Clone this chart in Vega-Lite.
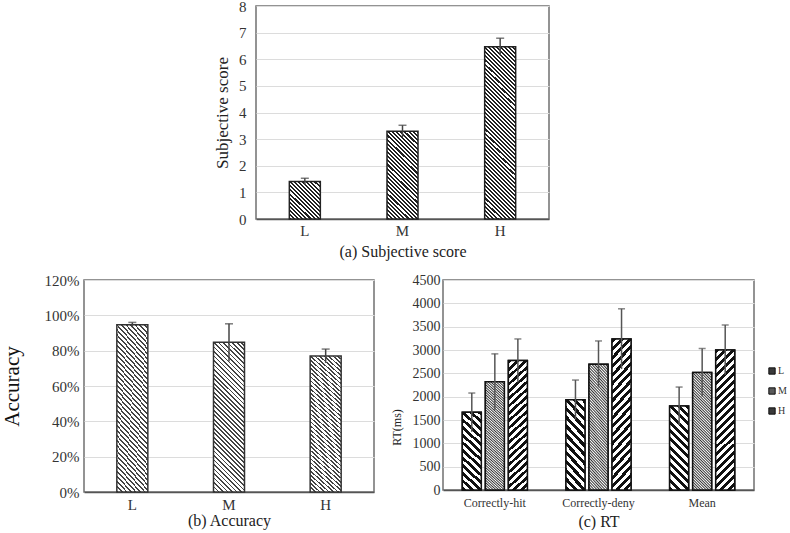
{
"$schema": "https://vega.github.io/schema/vega-lite/v6.json",
"background": "white",
"padding": {"left": 0, "top": -2, "right": 0, "bottom": 0},
"datasets": {
"a": [{"cond":"L","value":1.41,"lo":1.29,"hi":1.53},{"cond":"M","value":3.30,"lo":3.08,"hi":3.52},{"cond":"H","value":6.47,"lo":6.15,"hi":6.79}],
"b": [{"cond":"L","value":0.946,"lo":0.932,"hi":0.960},{"cond":"M","value":0.848,"lo":0.739,"hi":0.952},{"cond":"H","value":0.770,"lo":0.731,"hi":0.809}],
"c": [
{"measure":"Correctly-hit","level":"L","value":1664,"lo":1250,"hi":2078},
{"measure":"Correctly-hit","level":"M","value":2319,"lo":1721,"hi":2917},
{"measure":"Correctly-hit","level":"H","value":2774,"lo":2311,"hi":3237},
{"measure":"Correctly-deny","level":"L","value":1935,"lo":1514,"hi":2356},
{"measure":"Correctly-deny","level":"M","value":2697,"lo":2200,"hi":3194},
{"measure":"Correctly-deny","level":"H","value":3237,"lo":2591,"hi":3883},
{"measure":"Mean","level":"L","value":1800,"lo":1394,"hi":2206},
{"measure":"Mean","level":"M","value":2518,"lo":2006,"hi":3030},
{"measure":"Mean","level":"H","value":3002,"lo":2468,"hi":3536}]
},
"config": {
"font": "Liberation Serif",
"view": {"stroke": "#707070", "strokeWidth": 1.5},
"axis": {"labelFont": "Liberation Serif", "titleFont": "Liberation Serif", "titleFontWeight": "normal", "labelColor": "#333", "titleColor": "#222", "ticks": false, "gridColor": "#dcdcdc", "gridWidth": 1, "labelOverlap": false},
"axisY": {"domain": false, "grid": true},
"axisX": {"grid": false, "domainColor": "#555", "domainWidth": 1.5, "labelAngle": 0}
},
"spacing": 12,
"resolve": {"scale": {"fill": "independent"}, "legend": {"fill": "independent"}},
"vconcat": [
{"hconcat": [
 {"width": 162, "height": 10, "data": {"values": [{"s": 0}]}, "mark": {"type": "point", "opacity": 0}, "encoding": {}, "view": {"stroke": null}},
 {"width": 293, "height": 213,
  "data": {"name": "a"},
  "encoding": {"x": {"field": "cond", "type": "nominal", "title": "(a) Subjective score", "scale": {"domain": ["L","M","H"], "paddingInner": 0, "paddingOuter": 0}, "axis": {"labelFontSize": 15, "labelPadding": 4, "titleFontSize": 16, "titlePadding": 5}}},
  "layer": [
   {"transform": [{"filter": "datum.cond === 'L'"}],
    "mark": {"type": "bar", "width": 31, "stroke": "#222", "strokeWidth": 1.5, "fill": {"gradient": "linear", "x1": 0, "y1": 1, "x2": 0.891, "y2": -0.089, "stops": [
{"offset":0,"color":"#222"},{"offset":0.03,"color":"#222"},{"offset":0.03,"color":"#fff"},{"offset":0.06,"color":"#fff"},
{"offset":0.06,"color":"#222"},{"offset":0.09,"color":"#222"},{"offset":0.09,"color":"#fff"},{"offset":0.12,"color":"#fff"},
{"offset":0.12,"color":"#222"},{"offset":0.15,"color":"#222"},{"offset":0.15,"color":"#fff"},{"offset":0.18,"color":"#fff"},
{"offset":0.18,"color":"#222"},{"offset":0.21,"color":"#222"},{"offset":0.21,"color":"#fff"},{"offset":0.24,"color":"#fff"},
{"offset":0.24,"color":"#222"},{"offset":0.27,"color":"#222"},{"offset":0.27,"color":"#fff"},{"offset":0.3,"color":"#fff"},
{"offset":0.3,"color":"#222"},{"offset":0.33,"color":"#222"},{"offset":0.33,"color":"#fff"},{"offset":0.36,"color":"#fff"},
{"offset":0.36,"color":"#222"},{"offset":0.39,"color":"#222"},{"offset":0.39,"color":"#fff"},{"offset":0.42,"color":"#fff"},
{"offset":0.42,"color":"#222"},{"offset":0.45,"color":"#222"},{"offset":0.45,"color":"#fff"},{"offset":0.48,"color":"#fff"},
{"offset":0.48,"color":"#222"},{"offset":0.51,"color":"#222"},{"offset":0.51,"color":"#fff"},{"offset":0.54,"color":"#fff"},
{"offset":0.54,"color":"#222"},{"offset":0.57,"color":"#222"},{"offset":0.57,"color":"#fff"},{"offset":0.6,"color":"#fff"},
{"offset":0.6,"color":"#222"},{"offset":0.63,"color":"#222"},{"offset":0.63,"color":"#fff"},{"offset":0.66,"color":"#fff"},
{"offset":0.66,"color":"#222"},{"offset":0.69,"color":"#222"},{"offset":0.69,"color":"#fff"},{"offset":0.72,"color":"#fff"},
{"offset":0.72,"color":"#222"},{"offset":0.75,"color":"#222"},{"offset":0.75,"color":"#fff"},{"offset":0.78,"color":"#fff"},
{"offset":0.78,"color":"#222"},{"offset":0.81,"color":"#222"},{"offset":0.81,"color":"#fff"},{"offset":0.84,"color":"#fff"},
{"offset":0.84,"color":"#222"},{"offset":0.87,"color":"#222"},{"offset":0.87,"color":"#fff"},{"offset":0.9,"color":"#fff"},
{"offset":0.9,"color":"#222"},{"offset":0.93,"color":"#222"},{"offset":0.93,"color":"#fff"},{"offset":0.96,"color":"#fff"},
{"offset":0.96,"color":"#222"},{"offset":0.99,"color":"#222"},{"offset":0.99,"color":"#fff"},{"offset":1,"color":"#fff"}]}},
    "encoding": {"y": {"field": "value", "type": "quantitative", "title": "Subjective score", "scale": {"domain": [0, 8], "nice": false}, "axis": {"values": [0,1,2,3,4,5,6,7,8], "labelFontSize": 15, "labelPadding": 10, "titleFontSize": 17, "titlePadding": 7}}}},
   {"transform": [{"filter": "datum.cond === 'M'"}],
    "mark": {"type": "bar", "width": 31, "stroke": "#222", "strokeWidth": 1.5, "fill": {"gradient": "linear", "x1": 0, "y1": 1, "x2": 0.42, "y2": -0.2025, "stops": [
{"offset":0,"color":"#222"},{"offset":0.0175,"color":"#222"},{"offset":0.0175,"color":"#fff"},{"offset":0.035,"color":"#fff"},
{"offset":0.035,"color":"#222"},{"offset":0.0525,"color":"#222"},{"offset":0.0525,"color":"#fff"},{"offset":0.07,"color":"#fff"},
{"offset":0.07,"color":"#222"},{"offset":0.0875,"color":"#222"},{"offset":0.0875,"color":"#fff"},{"offset":0.105,"color":"#fff"},
{"offset":0.105,"color":"#222"},{"offset":0.1225,"color":"#222"},{"offset":0.1225,"color":"#fff"},{"offset":0.14,"color":"#fff"},
{"offset":0.14,"color":"#222"},{"offset":0.1575,"color":"#222"},{"offset":0.1575,"color":"#fff"},{"offset":0.175,"color":"#fff"},
{"offset":0.175,"color":"#222"},{"offset":0.1925,"color":"#222"},{"offset":0.1925,"color":"#fff"},{"offset":0.21,"color":"#fff"},
{"offset":0.21,"color":"#222"},{"offset":0.2275,"color":"#222"},{"offset":0.2275,"color":"#fff"},{"offset":0.245,"color":"#fff"},
{"offset":0.245,"color":"#222"},{"offset":0.2625,"color":"#222"},{"offset":0.2625,"color":"#fff"},{"offset":0.28,"color":"#fff"},
{"offset":0.28,"color":"#222"},{"offset":0.2975,"color":"#222"},{"offset":0.2975,"color":"#fff"},{"offset":0.315,"color":"#fff"},
{"offset":0.315,"color":"#222"},{"offset":0.3325,"color":"#222"},{"offset":0.3325,"color":"#fff"},{"offset":0.35,"color":"#fff"},
{"offset":0.35,"color":"#222"},{"offset":0.3675,"color":"#222"},{"offset":0.3675,"color":"#fff"},{"offset":0.385,"color":"#fff"},
{"offset":0.385,"color":"#222"},{"offset":0.4025,"color":"#222"},{"offset":0.4025,"color":"#fff"},{"offset":0.42,"color":"#fff"},
{"offset":0.42,"color":"#222"},{"offset":0.4375,"color":"#222"},{"offset":0.4375,"color":"#fff"},{"offset":0.455,"color":"#fff"},
{"offset":0.455,"color":"#222"},{"offset":0.4725,"color":"#222"},{"offset":0.4725,"color":"#fff"},{"offset":0.49,"color":"#fff"},
{"offset":0.49,"color":"#222"},{"offset":0.5075,"color":"#222"},{"offset":0.5075,"color":"#fff"},{"offset":0.525,"color":"#fff"},
{"offset":0.525,"color":"#222"},{"offset":0.5425,"color":"#222"},{"offset":0.5425,"color":"#fff"},{"offset":0.56,"color":"#fff"},
{"offset":0.56,"color":"#222"},{"offset":0.5775,"color":"#222"},{"offset":0.5775,"color":"#fff"},{"offset":0.595,"color":"#fff"},
{"offset":0.595,"color":"#222"},{"offset":0.6125,"color":"#222"},{"offset":0.6125,"color":"#fff"},{"offset":0.63,"color":"#fff"},
{"offset":0.63,"color":"#222"},{"offset":0.6475,"color":"#222"},{"offset":0.6475,"color":"#fff"},{"offset":0.665,"color":"#fff"},
{"offset":0.665,"color":"#222"},{"offset":0.6825,"color":"#222"},{"offset":0.6825,"color":"#fff"},{"offset":0.7,"color":"#fff"},
{"offset":0.7,"color":"#222"},{"offset":0.7175,"color":"#222"},{"offset":0.7175,"color":"#fff"},{"offset":0.735,"color":"#fff"},
{"offset":0.735,"color":"#222"},{"offset":0.7525,"color":"#222"},{"offset":0.7525,"color":"#fff"},{"offset":0.77,"color":"#fff"},
{"offset":0.77,"color":"#222"},{"offset":0.7875,"color":"#222"},{"offset":0.7875,"color":"#fff"},{"offset":0.805,"color":"#fff"},
{"offset":0.805,"color":"#222"},{"offset":0.8225,"color":"#222"},{"offset":0.8225,"color":"#fff"},{"offset":0.84,"color":"#fff"},
{"offset":0.84,"color":"#222"},{"offset":0.8575,"color":"#222"},{"offset":0.8575,"color":"#fff"},{"offset":0.875,"color":"#fff"},
{"offset":0.875,"color":"#222"},{"offset":0.8925,"color":"#222"},{"offset":0.8925,"color":"#fff"},{"offset":0.91,"color":"#fff"},
{"offset":0.91,"color":"#222"},{"offset":0.9275,"color":"#222"},{"offset":0.9275,"color":"#fff"},{"offset":0.945,"color":"#fff"},
{"offset":0.945,"color":"#222"},{"offset":0.9625,"color":"#222"},{"offset":0.9625,"color":"#fff"},{"offset":0.98,"color":"#fff"},
{"offset":0.98,"color":"#222"},{"offset":0.9975,"color":"#222"},{"offset":0.9975,"color":"#fff"},{"offset":1,"color":"#fff"}]}},
    "encoding": {"y": {"field": "value", "type": "quantitative", "title": "Subjective score", "axis": {"values": [0,1,2,3,4,5,6,7,8], "labelFontSize": 15, "labelPadding": 10, "titleFontSize": 17, "titlePadding": 7}}}},
   {"transform": [{"filter": "datum.cond === 'H'"}],
    "mark": {"type": "bar", "width": 31, "stroke": "#222", "strokeWidth": 1.5, "fill": {"gradient": "linear", "x1": 0, "y1": 1, "x2": 0.2036, "y2": -0.142, "stops": [
{"offset":0,"color":"#222"},{"offset":0.01,"color":"#222"},{"offset":0.01,"color":"#fff"},{"offset":0.02,"color":"#fff"},
{"offset":0.02,"color":"#222"},{"offset":0.03,"color":"#222"},{"offset":0.03,"color":"#fff"},{"offset":0.04,"color":"#fff"},
{"offset":0.04,"color":"#222"},{"offset":0.05,"color":"#222"},{"offset":0.05,"color":"#fff"},{"offset":0.06,"color":"#fff"},
{"offset":0.06,"color":"#222"},{"offset":0.07,"color":"#222"},{"offset":0.07,"color":"#fff"},{"offset":0.08,"color":"#fff"},
{"offset":0.08,"color":"#222"},{"offset":0.09,"color":"#222"},{"offset":0.09,"color":"#fff"},{"offset":0.1,"color":"#fff"},
{"offset":0.1,"color":"#222"},{"offset":0.11,"color":"#222"},{"offset":0.11,"color":"#fff"},{"offset":0.12,"color":"#fff"},
{"offset":0.12,"color":"#222"},{"offset":0.13,"color":"#222"},{"offset":0.13,"color":"#fff"},{"offset":0.14,"color":"#fff"},
{"offset":0.14,"color":"#222"},{"offset":0.15,"color":"#222"},{"offset":0.15,"color":"#fff"},{"offset":0.16,"color":"#fff"},
{"offset":0.16,"color":"#222"},{"offset":0.17,"color":"#222"},{"offset":0.17,"color":"#fff"},{"offset":0.18,"color":"#fff"},
{"offset":0.18,"color":"#222"},{"offset":0.19,"color":"#222"},{"offset":0.19,"color":"#fff"},{"offset":0.2,"color":"#fff"},
{"offset":0.2,"color":"#222"},{"offset":0.21,"color":"#222"},{"offset":0.21,"color":"#fff"},{"offset":0.22,"color":"#fff"},
{"offset":0.22,"color":"#222"},{"offset":0.23,"color":"#222"},{"offset":0.23,"color":"#fff"},{"offset":0.24,"color":"#fff"},
{"offset":0.24,"color":"#222"},{"offset":0.25,"color":"#222"},{"offset":0.25,"color":"#fff"},{"offset":0.26,"color":"#fff"},
{"offset":0.26,"color":"#222"},{"offset":0.27,"color":"#222"},{"offset":0.27,"color":"#fff"},{"offset":0.28,"color":"#fff"},
{"offset":0.28,"color":"#222"},{"offset":0.29,"color":"#222"},{"offset":0.29,"color":"#fff"},{"offset":0.3,"color":"#fff"},
{"offset":0.3,"color":"#222"},{"offset":0.31,"color":"#222"},{"offset":0.31,"color":"#fff"},{"offset":0.32,"color":"#fff"},
{"offset":0.32,"color":"#222"},{"offset":0.33,"color":"#222"},{"offset":0.33,"color":"#fff"},{"offset":0.34,"color":"#fff"},
{"offset":0.34,"color":"#222"},{"offset":0.35,"color":"#222"},{"offset":0.35,"color":"#fff"},{"offset":0.36,"color":"#fff"},
{"offset":0.36,"color":"#222"},{"offset":0.37,"color":"#222"},{"offset":0.37,"color":"#fff"},{"offset":0.38,"color":"#fff"},
{"offset":0.38,"color":"#222"},{"offset":0.39,"color":"#222"},{"offset":0.39,"color":"#fff"},{"offset":0.4,"color":"#fff"},
{"offset":0.4,"color":"#222"},{"offset":0.41,"color":"#222"},{"offset":0.41,"color":"#fff"},{"offset":0.42,"color":"#fff"},
{"offset":0.42,"color":"#222"},{"offset":0.43,"color":"#222"},{"offset":0.43,"color":"#fff"},{"offset":0.44,"color":"#fff"},
{"offset":0.44,"color":"#222"},{"offset":0.45,"color":"#222"},{"offset":0.45,"color":"#fff"},{"offset":0.46,"color":"#fff"},
{"offset":0.46,"color":"#222"},{"offset":0.47,"color":"#222"},{"offset":0.47,"color":"#fff"},{"offset":0.48,"color":"#fff"},
{"offset":0.48,"color":"#222"},{"offset":0.49,"color":"#222"},{"offset":0.49,"color":"#fff"},{"offset":0.5,"color":"#fff"},
{"offset":0.5,"color":"#222"},{"offset":0.51,"color":"#222"},{"offset":0.51,"color":"#fff"},{"offset":0.52,"color":"#fff"},
{"offset":0.52,"color":"#222"},{"offset":0.53,"color":"#222"},{"offset":0.53,"color":"#fff"},{"offset":0.54,"color":"#fff"},
{"offset":0.54,"color":"#222"},{"offset":0.55,"color":"#222"},{"offset":0.55,"color":"#fff"},{"offset":0.56,"color":"#fff"},
{"offset":0.56,"color":"#222"},{"offset":0.57,"color":"#222"},{"offset":0.57,"color":"#fff"},{"offset":0.58,"color":"#fff"},
{"offset":0.58,"color":"#222"},{"offset":0.59,"color":"#222"},{"offset":0.59,"color":"#fff"},{"offset":0.6,"color":"#fff"},
{"offset":0.6,"color":"#222"},{"offset":0.61,"color":"#222"},{"offset":0.61,"color":"#fff"},{"offset":0.62,"color":"#fff"},
{"offset":0.62,"color":"#222"},{"offset":0.63,"color":"#222"},{"offset":0.63,"color":"#fff"},{"offset":0.64,"color":"#fff"},
{"offset":0.64,"color":"#222"},{"offset":0.65,"color":"#222"},{"offset":0.65,"color":"#fff"},{"offset":0.66,"color":"#fff"},
{"offset":0.66,"color":"#222"},{"offset":0.67,"color":"#222"},{"offset":0.67,"color":"#fff"},{"offset":0.68,"color":"#fff"},
{"offset":0.68,"color":"#222"},{"offset":0.69,"color":"#222"},{"offset":0.69,"color":"#fff"},{"offset":0.7,"color":"#fff"},
{"offset":0.7,"color":"#222"},{"offset":0.71,"color":"#222"},{"offset":0.71,"color":"#fff"},{"offset":0.72,"color":"#fff"},
{"offset":0.72,"color":"#222"},{"offset":0.73,"color":"#222"},{"offset":0.73,"color":"#fff"},{"offset":0.74,"color":"#fff"},
{"offset":0.74,"color":"#222"},{"offset":0.75,"color":"#222"},{"offset":0.75,"color":"#fff"},{"offset":0.76,"color":"#fff"},
{"offset":0.76,"color":"#222"},{"offset":0.77,"color":"#222"},{"offset":0.77,"color":"#fff"},{"offset":0.78,"color":"#fff"},
{"offset":0.78,"color":"#222"},{"offset":0.79,"color":"#222"},{"offset":0.79,"color":"#fff"},{"offset":0.8,"color":"#fff"},
{"offset":0.8,"color":"#222"},{"offset":0.81,"color":"#222"},{"offset":0.81,"color":"#fff"},{"offset":0.82,"color":"#fff"},
{"offset":0.82,"color":"#222"},{"offset":0.83,"color":"#222"},{"offset":0.83,"color":"#fff"},{"offset":0.84,"color":"#fff"},
{"offset":0.84,"color":"#222"},{"offset":0.85,"color":"#222"},{"offset":0.85,"color":"#fff"},{"offset":0.86,"color":"#fff"},
{"offset":0.86,"color":"#222"},{"offset":0.87,"color":"#222"},{"offset":0.87,"color":"#fff"},{"offset":0.88,"color":"#fff"},
{"offset":0.88,"color":"#222"},{"offset":0.89,"color":"#222"},{"offset":0.89,"color":"#fff"},{"offset":0.9,"color":"#fff"},
{"offset":0.9,"color":"#222"},{"offset":0.91,"color":"#222"},{"offset":0.91,"color":"#fff"},{"offset":0.92,"color":"#fff"},
{"offset":0.92,"color":"#222"},{"offset":0.93,"color":"#222"},{"offset":0.93,"color":"#fff"},{"offset":0.94,"color":"#fff"},
{"offset":0.94,"color":"#222"},{"offset":0.95,"color":"#222"},{"offset":0.95,"color":"#fff"},{"offset":0.96,"color":"#fff"},
{"offset":0.96,"color":"#222"},{"offset":0.97,"color":"#222"},{"offset":0.97,"color":"#fff"},{"offset":0.98,"color":"#fff"},
{"offset":0.98,"color":"#222"},{"offset":0.99,"color":"#222"},{"offset":0.99,"color":"#fff"},{"offset":1,"color":"#fff"}]}},
    "encoding": {"y": {"field": "value", "type": "quantitative", "title": "Subjective score", "axis": {"values": [0,1,2,3,4,5,6,7,8], "labelFontSize": 15, "labelPadding": 10, "titleFontSize": 17, "titlePadding": 7}}}},
   {"mark": {"type": "rule", "color": "#444", "strokeWidth": 1.5},
    "encoding": {"y": {"field": "lo", "type": "quantitative", "title": "Subjective score", "axis": {"values": [0,1,2,3,4,5,6,7,8], "labelFontSize": 15, "labelPadding": 10, "titleFontSize": 17, "titlePadding": 7}}, "y2": {"field": "hi"}}},
   {"mark": {"type": "tick", "color": "#444", "thickness": 1.5, "size": 8},
    "encoding": {"y": {"field": "hi", "type": "quantitative", "title": "Subjective score", "axis": {"values": [0,1,2,3,4,5,6,7,8], "labelFontSize": 15, "labelPadding": 10, "titleFontSize": 17, "titlePadding": 7}}}}
  ]}
], "spacing": 10, "bounds": "flush"},
{"hconcat": [
 {"width": 290, "height": 212,
  "data": {"name": "b"},
  "encoding": {"x": {"field": "cond", "type": "nominal", "title": "(b) Accuracy", "scale": {"domain": ["L","M","H"], "paddingInner": 0, "paddingOuter": 0}, "axis": {"labelFontSize": 15, "labelPadding": 5, "titleFontSize": 16, "titlePadding": 0}}},
  "layer": [
   {"mark": {"type": "bar", "width": 31, "stroke": "#333", "strokeWidth": 1.5, "fill": {"gradient": "linear", "x1": 0, "y1": 1, "x2": 0.239, "y2": -0.157, "stops": [
{"offset":0,"color":"#444"},{"offset":0.01,"color":"#444"},{"offset":0.01,"color":"#fff"},{"offset":0.025,"color":"#fff"},
{"offset":0.025,"color":"#444"},{"offset":0.035,"color":"#444"},{"offset":0.035,"color":"#fff"},{"offset":0.05,"color":"#fff"},
{"offset":0.05,"color":"#444"},{"offset":0.06,"color":"#444"},{"offset":0.06,"color":"#fff"},{"offset":0.075,"color":"#fff"},
{"offset":0.075,"color":"#444"},{"offset":0.085,"color":"#444"},{"offset":0.085,"color":"#fff"},{"offset":0.1,"color":"#fff"},
{"offset":0.1,"color":"#444"},{"offset":0.11,"color":"#444"},{"offset":0.11,"color":"#fff"},{"offset":0.125,"color":"#fff"},
{"offset":0.125,"color":"#444"},{"offset":0.135,"color":"#444"},{"offset":0.135,"color":"#fff"},{"offset":0.15,"color":"#fff"},
{"offset":0.15,"color":"#444"},{"offset":0.16,"color":"#444"},{"offset":0.16,"color":"#fff"},{"offset":0.175,"color":"#fff"},
{"offset":0.175,"color":"#444"},{"offset":0.185,"color":"#444"},{"offset":0.185,"color":"#fff"},{"offset":0.2,"color":"#fff"},
{"offset":0.2,"color":"#444"},{"offset":0.21,"color":"#444"},{"offset":0.21,"color":"#fff"},{"offset":0.225,"color":"#fff"},
{"offset":0.225,"color":"#444"},{"offset":0.235,"color":"#444"},{"offset":0.235,"color":"#fff"},{"offset":0.25,"color":"#fff"},
{"offset":0.25,"color":"#444"},{"offset":0.26,"color":"#444"},{"offset":0.26,"color":"#fff"},{"offset":0.275,"color":"#fff"},
{"offset":0.275,"color":"#444"},{"offset":0.285,"color":"#444"},{"offset":0.285,"color":"#fff"},{"offset":0.3,"color":"#fff"},
{"offset":0.3,"color":"#444"},{"offset":0.31,"color":"#444"},{"offset":0.31,"color":"#fff"},{"offset":0.325,"color":"#fff"},
{"offset":0.325,"color":"#444"},{"offset":0.335,"color":"#444"},{"offset":0.335,"color":"#fff"},{"offset":0.35,"color":"#fff"},
{"offset":0.35,"color":"#444"},{"offset":0.36,"color":"#444"},{"offset":0.36,"color":"#fff"},{"offset":0.375,"color":"#fff"},
{"offset":0.375,"color":"#444"},{"offset":0.385,"color":"#444"},{"offset":0.385,"color":"#fff"},{"offset":0.4,"color":"#fff"},
{"offset":0.4,"color":"#444"},{"offset":0.41,"color":"#444"},{"offset":0.41,"color":"#fff"},{"offset":0.425,"color":"#fff"},
{"offset":0.425,"color":"#444"},{"offset":0.435,"color":"#444"},{"offset":0.435,"color":"#fff"},{"offset":0.45,"color":"#fff"},
{"offset":0.45,"color":"#444"},{"offset":0.46,"color":"#444"},{"offset":0.46,"color":"#fff"},{"offset":0.475,"color":"#fff"},
{"offset":0.475,"color":"#444"},{"offset":0.485,"color":"#444"},{"offset":0.485,"color":"#fff"},{"offset":0.5,"color":"#fff"},
{"offset":0.5,"color":"#444"},{"offset":0.51,"color":"#444"},{"offset":0.51,"color":"#fff"},{"offset":0.525,"color":"#fff"},
{"offset":0.525,"color":"#444"},{"offset":0.535,"color":"#444"},{"offset":0.535,"color":"#fff"},{"offset":0.55,"color":"#fff"},
{"offset":0.55,"color":"#444"},{"offset":0.56,"color":"#444"},{"offset":0.56,"color":"#fff"},{"offset":0.575,"color":"#fff"},
{"offset":0.575,"color":"#444"},{"offset":0.585,"color":"#444"},{"offset":0.585,"color":"#fff"},{"offset":0.6,"color":"#fff"},
{"offset":0.6,"color":"#444"},{"offset":0.61,"color":"#444"},{"offset":0.61,"color":"#fff"},{"offset":0.625,"color":"#fff"},
{"offset":0.625,"color":"#444"},{"offset":0.635,"color":"#444"},{"offset":0.635,"color":"#fff"},{"offset":0.65,"color":"#fff"},
{"offset":0.65,"color":"#444"},{"offset":0.66,"color":"#444"},{"offset":0.66,"color":"#fff"},{"offset":0.675,"color":"#fff"},
{"offset":0.675,"color":"#444"},{"offset":0.685,"color":"#444"},{"offset":0.685,"color":"#fff"},{"offset":0.7,"color":"#fff"},
{"offset":0.7,"color":"#444"},{"offset":0.71,"color":"#444"},{"offset":0.71,"color":"#fff"},{"offset":0.725,"color":"#fff"},
{"offset":0.725,"color":"#444"},{"offset":0.735,"color":"#444"},{"offset":0.735,"color":"#fff"},{"offset":0.75,"color":"#fff"},
{"offset":0.75,"color":"#444"},{"offset":0.76,"color":"#444"},{"offset":0.76,"color":"#fff"},{"offset":0.775,"color":"#fff"},
{"offset":0.775,"color":"#444"},{"offset":0.785,"color":"#444"},{"offset":0.785,"color":"#fff"},{"offset":0.8,"color":"#fff"},
{"offset":0.8,"color":"#444"},{"offset":0.81,"color":"#444"},{"offset":0.81,"color":"#fff"},{"offset":0.825,"color":"#fff"},
{"offset":0.825,"color":"#444"},{"offset":0.835,"color":"#444"},{"offset":0.835,"color":"#fff"},{"offset":0.85,"color":"#fff"},
{"offset":0.85,"color":"#444"},{"offset":0.86,"color":"#444"},{"offset":0.86,"color":"#fff"},{"offset":0.875,"color":"#fff"},
{"offset":0.875,"color":"#444"},{"offset":0.885,"color":"#444"},{"offset":0.885,"color":"#fff"},{"offset":0.9,"color":"#fff"},
{"offset":0.9,"color":"#444"},{"offset":0.91,"color":"#444"},{"offset":0.91,"color":"#fff"},{"offset":0.925,"color":"#fff"},
{"offset":0.925,"color":"#444"},{"offset":0.935,"color":"#444"},{"offset":0.935,"color":"#fff"},{"offset":0.95,"color":"#fff"},
{"offset":0.95,"color":"#444"},{"offset":0.96,"color":"#444"},{"offset":0.96,"color":"#fff"},{"offset":0.975,"color":"#fff"},
{"offset":0.975,"color":"#444"},{"offset":0.985,"color":"#444"},{"offset":0.985,"color":"#fff"},{"offset":1,"color":"#fff"}]}},
    "encoding": {"y": {"field": "value", "type": "quantitative", "title": "Accuracy", "scale": {"domain": [0, 1.2], "nice": false}, "axis": {"values": [0,0.2,0.4,0.6,0.8,1,1.2], "format": ".0%", "labelFontSize": 15, "labelPadding": 5, "titleFontSize": 21, "titlePadding": 22, "titleColor": "#111"}}}},
   {"mark": {"type": "rule", "color": "#444", "strokeWidth": 1.5},
    "encoding": {"y": {"field": "lo", "type": "quantitative", "title": "Accuracy", "axis": {"values": [0,0.2,0.4,0.6,0.8,1,1.2], "format": ".0%", "labelFontSize": 15, "labelPadding": 5, "titleFontSize": 21, "titlePadding": 22, "titleColor": "#111"}}, "y2": {"field": "hi"}}},
   {"mark": {"type": "tick", "color": "#444", "thickness": 1.5, "size": 8},
    "encoding": {"y": {"field": "hi", "type": "quantitative", "title": "Accuracy", "axis": {"values": [0,0.2,0.4,0.6,0.8,1,1.2], "format": ".0%", "labelFontSize": 15, "labelPadding": 5, "titleFontSize": 21, "titlePadding": 22, "titleColor": "#111"}}}}
  ]},
 {"width": 311, "height": 210,
  "data": {"name": "c"},
  "encoding": {
   "x": {"field": "measure", "type": "nominal", "title": "(c) RT", "scale": {"domain": ["Correctly-hit","Correctly-deny","Mean"], "paddingInner": 0, "paddingOuter": 0}, "axis": {"labelFontSize": 12, "labelPadding": 7, "titleFontSize": 16, "titlePadding": 5}},
   "xOffset": {"field": "level", "type": "nominal", "scale": {"domain": ["L","M","H"], "paddingInner": 0, "paddingOuter": 0.75}}
  },
  "layer": [
   {"mark": {"type": "bar", "width": 19, "stroke": "#111", "strokeWidth": 1.5},
    "encoding": {
     "y": {"field": "value", "type": "quantitative", "title": "RT(ms)", "scale": {"domain": [0, 4500], "nice": false}, "axis": {"values": [0,500,1000,1500,2000,2500,3000,3500,4000,4500], "format": "d", "labelFontSize": 14, "labelPadding": 3, "titleFontSize": 12, "titlePadding": 9, "titleY": 147}},
     "fill": {"field": "level", "type": "nominal", "scale": {"domain": ["L","M","H"], "range": ["#3a3a3a","#5a5a5a","#3a3a3a"]}, "legend": {"title": null, "orient": "none", "legendX": 324, "legendY": 86, "symbolType": "square", "symbolSize": 40, "symbolStrokeColor": "#111", "symbolStrokeWidth": 1, "labelFont": "Liberation Serif", "labelFontSize": 10, "labelColor": "#333", "rowPadding": 8, "labelOffset": 1}}
    }},
   {"transform": [{"filter": "datum.level === 'L'"}],
    "mark": {"type": "bar", "width": 19, "stroke": "#111", "strokeWidth": 1.5, "fill": {"gradient": "linear", "x1": 0, "y1": 1, "x2": 0.2639, "y2": -0.1665, "stops": [
{"offset":0,"color":"#111"},{"offset":0.04,"color":"#111"},{"offset":0.04,"color":"#fff"},{"offset":0.08,"color":"#fff"},
{"offset":0.08,"color":"#111"},{"offset":0.12,"color":"#111"},{"offset":0.12,"color":"#fff"},{"offset":0.16,"color":"#fff"},
{"offset":0.16,"color":"#111"},{"offset":0.2,"color":"#111"},{"offset":0.2,"color":"#fff"},{"offset":0.24,"color":"#fff"},
{"offset":0.24,"color":"#111"},{"offset":0.28,"color":"#111"},{"offset":0.28,"color":"#fff"},{"offset":0.32,"color":"#fff"},
{"offset":0.32,"color":"#111"},{"offset":0.36,"color":"#111"},{"offset":0.36,"color":"#fff"},{"offset":0.4,"color":"#fff"},
{"offset":0.4,"color":"#111"},{"offset":0.44,"color":"#111"},{"offset":0.44,"color":"#fff"},{"offset":0.48,"color":"#fff"},
{"offset":0.48,"color":"#111"},{"offset":0.52,"color":"#111"},{"offset":0.52,"color":"#fff"},{"offset":0.56,"color":"#fff"},
{"offset":0.56,"color":"#111"},{"offset":0.6,"color":"#111"},{"offset":0.6,"color":"#fff"},{"offset":0.64,"color":"#fff"},
{"offset":0.64,"color":"#111"},{"offset":0.68,"color":"#111"},{"offset":0.68,"color":"#fff"},{"offset":0.72,"color":"#fff"},
{"offset":0.72,"color":"#111"},{"offset":0.76,"color":"#111"},{"offset":0.76,"color":"#fff"},{"offset":0.8,"color":"#fff"},
{"offset":0.8,"color":"#111"},{"offset":0.84,"color":"#111"},{"offset":0.84,"color":"#fff"},{"offset":0.88,"color":"#fff"},
{"offset":0.88,"color":"#111"},{"offset":0.92,"color":"#111"},{"offset":0.92,"color":"#fff"},{"offset":0.96,"color":"#fff"},
{"offset":0.96,"color":"#111"},{"offset":1,"color":"#111"}]}},
    "encoding": {"y": {"field": "value", "type": "quantitative", "title": "RT(ms)", "axis": {"values": [0,500,1000,1500,2000,2500,3000,3500,4000,4500], "format": "d", "labelFontSize": 14, "labelPadding": 3, "titleFontSize": 12, "titlePadding": 9, "titleY": 147}}}},
   {"transform": [{"filter": "datum.level === 'M'"}],
    "mark": {"type": "bar", "width": 19, "stroke": "#111", "strokeWidth": 1.5, "fill": {"gradient": "linear", "x1": 0, "y1": 1, "x2": 0.1822, "y2": -0.1317, "stops": [
{"offset":0,"color":"#333"},{"offset":0.01,"color":"#fff"},{"offset":0.02,"color":"#333"},{"offset":0.03,"color":"#fff"},{"offset":0.04,"color":"#333"},{"offset":0.05,"color":"#fff"},{"offset":0.06,"color":"#333"},{"offset":0.07,"color":"#fff"},{"offset":0.08,"color":"#333"},{"offset":0.09,"color":"#fff"},
{"offset":0.1,"color":"#333"},{"offset":0.11,"color":"#fff"},{"offset":0.12,"color":"#333"},{"offset":0.13,"color":"#fff"},{"offset":0.14,"color":"#333"},{"offset":0.15,"color":"#fff"},{"offset":0.16,"color":"#333"},{"offset":0.17,"color":"#fff"},{"offset":0.18,"color":"#333"},{"offset":0.19,"color":"#fff"},
{"offset":0.2,"color":"#333"},{"offset":0.21,"color":"#fff"},{"offset":0.22,"color":"#333"},{"offset":0.23,"color":"#fff"},{"offset":0.24,"color":"#333"},{"offset":0.25,"color":"#fff"},{"offset":0.26,"color":"#333"},{"offset":0.27,"color":"#fff"},{"offset":0.28,"color":"#333"},{"offset":0.29,"color":"#fff"},
{"offset":0.3,"color":"#333"},{"offset":0.31,"color":"#fff"},{"offset":0.32,"color":"#333"},{"offset":0.33,"color":"#fff"},{"offset":0.34,"color":"#333"},{"offset":0.35,"color":"#fff"},{"offset":0.36,"color":"#333"},{"offset":0.37,"color":"#fff"},{"offset":0.38,"color":"#333"},{"offset":0.39,"color":"#fff"},
{"offset":0.4,"color":"#333"},{"offset":0.41,"color":"#fff"},{"offset":0.42,"color":"#333"},{"offset":0.43,"color":"#fff"},{"offset":0.44,"color":"#333"},{"offset":0.45,"color":"#fff"},{"offset":0.46,"color":"#333"},{"offset":0.47,"color":"#fff"},{"offset":0.48,"color":"#333"},{"offset":0.49,"color":"#fff"},
{"offset":0.5,"color":"#333"},{"offset":0.51,"color":"#fff"},{"offset":0.52,"color":"#333"},{"offset":0.53,"color":"#fff"},{"offset":0.54,"color":"#333"},{"offset":0.55,"color":"#fff"},{"offset":0.56,"color":"#333"},{"offset":0.57,"color":"#fff"},{"offset":0.58,"color":"#333"},{"offset":0.59,"color":"#fff"},
{"offset":0.6,"color":"#333"},{"offset":0.61,"color":"#fff"},{"offset":0.62,"color":"#333"},{"offset":0.63,"color":"#fff"},{"offset":0.64,"color":"#333"},{"offset":0.65,"color":"#fff"},{"offset":0.66,"color":"#333"},{"offset":0.67,"color":"#fff"},{"offset":0.68,"color":"#333"},{"offset":0.69,"color":"#fff"},
{"offset":0.7,"color":"#333"},{"offset":0.71,"color":"#fff"},{"offset":0.72,"color":"#333"},{"offset":0.73,"color":"#fff"},{"offset":0.74,"color":"#333"},{"offset":0.75,"color":"#fff"},{"offset":0.76,"color":"#333"},{"offset":0.77,"color":"#fff"},{"offset":0.78,"color":"#333"},{"offset":0.79,"color":"#fff"},
{"offset":0.8,"color":"#333"},{"offset":0.81,"color":"#fff"},{"offset":0.82,"color":"#333"},{"offset":0.83,"color":"#fff"},{"offset":0.84,"color":"#333"},{"offset":0.85,"color":"#fff"},{"offset":0.86,"color":"#333"},{"offset":0.87,"color":"#fff"},{"offset":0.88,"color":"#333"},{"offset":0.89,"color":"#fff"},
{"offset":0.9,"color":"#333"},{"offset":0.91,"color":"#fff"},{"offset":0.92,"color":"#333"},{"offset":0.93,"color":"#fff"},{"offset":0.94,"color":"#333"},{"offset":0.95,"color":"#fff"},{"offset":0.96,"color":"#333"},{"offset":0.97,"color":"#fff"},{"offset":0.98,"color":"#333"},{"offset":0.99,"color":"#fff"},
{"offset":1,"color":"#333"}]}},
    "encoding": {"y": {"field": "value", "type": "quantitative", "title": "RT(ms)", "axis": {"values": [0,500,1000,1500,2000,2500,3000,3500,4000,4500], "format": "d", "labelFontSize": 14, "labelPadding": 3, "titleFontSize": 12, "titlePadding": 9, "titleY": 147}}}},
   {"transform": [{"filter": "datum.level === 'H'"}],
    "mark": {"type": "bar", "width": 19, "stroke": "#111", "strokeWidth": 1.5, "fill": {"gradient": "linear", "x1": 0, "y1": 0, "x2": 0.1502, "y2": 1.1145, "stops": [
{"offset":0,"color":"#111"},{"offset":0.025,"color":"#111"},{"offset":0.025,"color":"#fff"},{"offset":0.05,"color":"#fff"},
{"offset":0.05,"color":"#111"},{"offset":0.075,"color":"#111"},{"offset":0.075,"color":"#fff"},{"offset":0.1,"color":"#fff"},
{"offset":0.1,"color":"#111"},{"offset":0.125,"color":"#111"},{"offset":0.125,"color":"#fff"},{"offset":0.15,"color":"#fff"},
{"offset":0.15,"color":"#111"},{"offset":0.175,"color":"#111"},{"offset":0.175,"color":"#fff"},{"offset":0.2,"color":"#fff"},
{"offset":0.2,"color":"#111"},{"offset":0.225,"color":"#111"},{"offset":0.225,"color":"#fff"},{"offset":0.25,"color":"#fff"},
{"offset":0.25,"color":"#111"},{"offset":0.275,"color":"#111"},{"offset":0.275,"color":"#fff"},{"offset":0.3,"color":"#fff"},
{"offset":0.3,"color":"#111"},{"offset":0.325,"color":"#111"},{"offset":0.325,"color":"#fff"},{"offset":0.35,"color":"#fff"},
{"offset":0.35,"color":"#111"},{"offset":0.375,"color":"#111"},{"offset":0.375,"color":"#fff"},{"offset":0.4,"color":"#fff"},
{"offset":0.4,"color":"#111"},{"offset":0.425,"color":"#111"},{"offset":0.425,"color":"#fff"},{"offset":0.45,"color":"#fff"},
{"offset":0.45,"color":"#111"},{"offset":0.475,"color":"#111"},{"offset":0.475,"color":"#fff"},{"offset":0.5,"color":"#fff"},
{"offset":0.5,"color":"#111"},{"offset":0.525,"color":"#111"},{"offset":0.525,"color":"#fff"},{"offset":0.55,"color":"#fff"},
{"offset":0.55,"color":"#111"},{"offset":0.575,"color":"#111"},{"offset":0.575,"color":"#fff"},{"offset":0.6,"color":"#fff"},
{"offset":0.6,"color":"#111"},{"offset":0.625,"color":"#111"},{"offset":0.625,"color":"#fff"},{"offset":0.65,"color":"#fff"},
{"offset":0.65,"color":"#111"},{"offset":0.675,"color":"#111"},{"offset":0.675,"color":"#fff"},{"offset":0.7,"color":"#fff"},
{"offset":0.7,"color":"#111"},{"offset":0.725,"color":"#111"},{"offset":0.725,"color":"#fff"},{"offset":0.75,"color":"#fff"},
{"offset":0.75,"color":"#111"},{"offset":0.775,"color":"#111"},{"offset":0.775,"color":"#fff"},{"offset":0.8,"color":"#fff"},
{"offset":0.8,"color":"#111"},{"offset":0.825,"color":"#111"},{"offset":0.825,"color":"#fff"},{"offset":0.85,"color":"#fff"},
{"offset":0.85,"color":"#111"},{"offset":0.875,"color":"#111"},{"offset":0.875,"color":"#fff"},{"offset":0.9,"color":"#fff"},
{"offset":0.9,"color":"#111"},{"offset":0.925,"color":"#111"},{"offset":0.925,"color":"#fff"},{"offset":0.95,"color":"#fff"},
{"offset":0.95,"color":"#111"},{"offset":0.975,"color":"#111"},{"offset":0.975,"color":"#fff"},{"offset":1,"color":"#fff"}]}},
    "encoding": {"y": {"field": "value", "type": "quantitative", "title": "RT(ms)", "axis": {"values": [0,500,1000,1500,2000,2500,3000,3500,4000,4500], "format": "d", "labelFontSize": 14, "labelPadding": 3, "titleFontSize": 12, "titlePadding": 9, "titleY": 147}}}},
   {"mark": {"type": "rule", "color": "#555", "strokeWidth": 1.5},
    "encoding": {"y": {"field": "lo", "type": "quantitative", "title": "RT(ms)", "axis": {"values": [0,500,1000,1500,2000,2500,3000,3500,4000,4500], "format": "d", "labelFontSize": 14, "labelPadding": 3, "titleFontSize": 12, "titlePadding": 9, "titleY": 147}}, "y2": {"field": "hi"}}},
   {"mark": {"type": "tick", "color": "#555", "thickness": 1.5, "size": 7},
    "encoding": {"y": {"field": "hi", "type": "quantitative", "title": "RT(ms)", "axis": {"values": [0,500,1000,1500,2000,2500,3000,3500,4000,4500], "format": "d", "labelFontSize": 14, "labelPadding": 3, "titleFontSize": 12, "titlePadding": 9, "titleY": 147}}}}
  ]}
], "spacing": 69, "bounds": "flush", "resolve": {"scale": {"fill": "independent"}, "legend": {"fill": "independent"}}}
]
}
